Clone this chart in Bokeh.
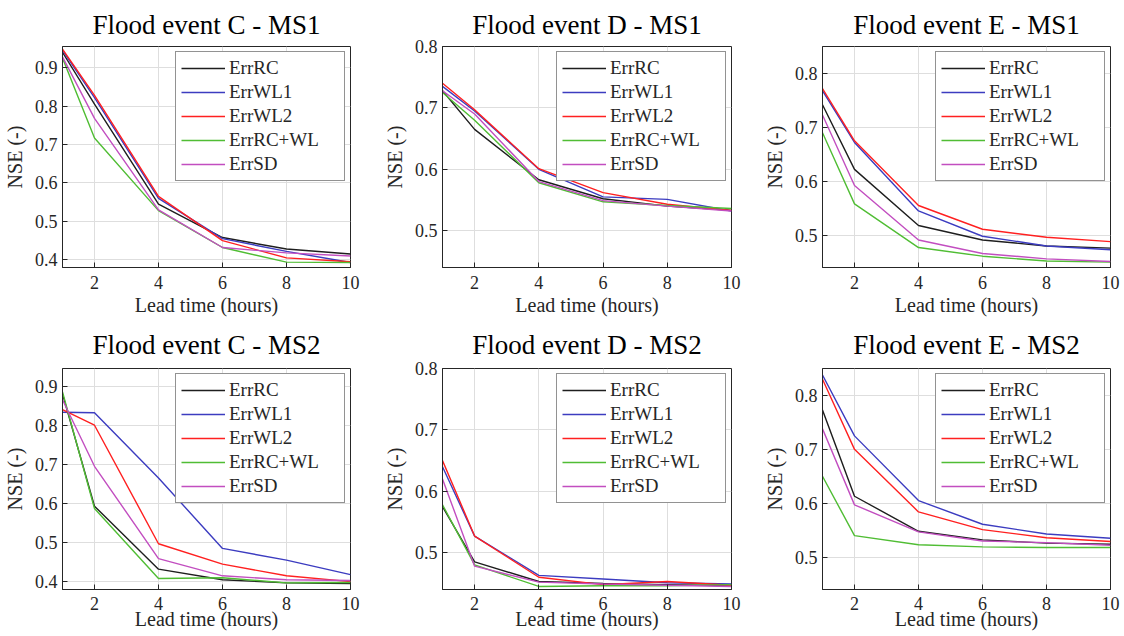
from bokeh.plotting import figure
from bokeh.layouts import gridplot
from bokeh.models import Range1d, FixedTicker, Legend, LegendItem
from bokeh.embed import file_html
from bokeh.resources import INLINE

# ---------------- data ----------------
lead_time = [1, 2, 4, 6, 8, 10]
series_names = ["ErrRC", "ErrWL1", "ErrWL2", "ErrRC+WL", "ErrSD"]
series_colors = ["#1e1e1e", "#3c3cc0", "#ff2020", "#50bd34", "#c24ec0"]

x_ticks = [2, 4, 6, 8, 10]
x_tick_labels = ["2", "4", "6", "8", "10"]

# Flood event C - MS1
c_ms1_errrc = [0.940, 0.805, 0.545, 0.458, 0.428, 0.415]
c_ms1_errwl1 = [0.945, 0.822, 0.560, 0.455, 0.422, 0.393]
c_ms1_errwl2 = [0.948, 0.828, 0.565, 0.450, 0.405, 0.395]
c_ms1_errrcwl = [0.925, 0.717, 0.528, 0.432, 0.394, 0.393]
c_ms1_errsd = [0.928, 0.768, 0.530, 0.432, 0.418, 0.410]

# Flood event D - MS1
d_ms1_errrc = [0.728, 0.665, 0.583, 0.552, 0.540, 0.533]
d_ms1_errwl1 = [0.735, 0.695, 0.600, 0.555, 0.551, 0.532]
d_ms1_errwl2 = [0.740, 0.697, 0.601, 0.562, 0.543, 0.533]
d_ms1_errrcwl = [0.725, 0.680, 0.578, 0.547, 0.541, 0.536]
d_ms1_errsd = [0.728, 0.690, 0.580, 0.549, 0.540, 0.532]

# Flood event E - MS1
e_ms1_errrc = [0.742, 0.622, 0.518, 0.491, 0.480, 0.476]
e_ms1_errwl1 = [0.768, 0.672, 0.545, 0.498, 0.480, 0.473]
e_ms1_errwl2 = [0.772, 0.675, 0.555, 0.511, 0.496, 0.488]
e_ms1_errrcwl = [0.690, 0.558, 0.477, 0.461, 0.452, 0.450]
e_ms1_errsd = [0.723, 0.592, 0.491, 0.466, 0.456, 0.451]

# Flood event C - MS2
c_ms2_errrc = [0.880, 0.593, 0.432, 0.405, 0.397, 0.395]
c_ms2_errwl1 = [0.833, 0.832, 0.665, 0.485, 0.455, 0.418]
c_ms2_errwl2 = [0.840, 0.800, 0.497, 0.445, 0.415, 0.400]
c_ms2_errrcwl = [0.885, 0.587, 0.408, 0.410, 0.397, 0.398]
c_ms2_errsd = [0.865, 0.695, 0.459, 0.415, 0.405, 0.403]

# Flood event D - MS2
d_ms2_errrc = [0.575, 0.485, 0.453, 0.450, 0.448, 0.446]
d_ms2_errwl1 = [0.640, 0.527, 0.463, 0.457, 0.451, 0.449]
d_ms2_errwl2 = [0.650, 0.527, 0.460, 0.448, 0.453, 0.447]
d_ms2_errrcwl = [0.578, 0.480, 0.445, 0.446, 0.446, 0.448]
d_ms2_errsd = [0.620, 0.478, 0.452, 0.449, 0.447, 0.445]

# Flood event E - MS2
e_ms2_errrc = [0.773, 0.613, 0.548, 0.532, 0.526, 0.524]
e_ms2_errwl1 = [0.838, 0.725, 0.605, 0.561, 0.543, 0.535]
e_ms2_errwl2 = [0.830, 0.700, 0.584, 0.551, 0.536, 0.529]
e_ms2_errrcwl = [0.650, 0.540, 0.523, 0.519, 0.518, 0.518]
e_ms2_errsd = [0.738, 0.597, 0.547, 0.530, 0.527, 0.522]

titles = ["Flood event C - MS1", "Flood event D - MS1", "Flood event E - MS1",
          "Flood event C - MS2", "Flood event D - MS2", "Flood event E - MS2"]

c_y_ticks = [0.4, 0.5, 0.6, 0.7, 0.8, 0.9]
d_y_ticks = [0.5, 0.6, 0.7, 0.8]
e_y_ticks = [0.5, 0.6, 0.7, 0.8]

panel_series = [
    [c_ms1_errrc, c_ms1_errwl1, c_ms1_errwl2, c_ms1_errrcwl, c_ms1_errsd],
    [d_ms1_errrc, d_ms1_errwl1, d_ms1_errwl2, d_ms1_errrcwl, d_ms1_errsd],
    [e_ms1_errrc, e_ms1_errwl1, e_ms1_errwl2, e_ms1_errrcwl, e_ms1_errsd],
    [c_ms2_errrc, c_ms2_errwl1, c_ms2_errwl2, c_ms2_errrcwl, c_ms2_errsd],
    [d_ms2_errrc, d_ms2_errwl1, d_ms2_errwl2, d_ms2_errrcwl, d_ms2_errsd],
    [e_ms2_errrc, e_ms2_errwl1, e_ms2_errwl2, e_ms2_errrcwl, e_ms2_errsd],
]
panel_yranges = [(0.38, 0.955), (0.44, 0.80), (0.44, 0.85),
                 (0.38, 0.945), (0.44, 0.80), (0.44, 0.85)]
panel_yticks = [c_y_ticks, d_y_ticks, e_y_ticks, c_y_ticks, d_y_ticks, e_y_ticks]

# ---------------- layout ----------------
FONT = "Liberation Serif"
TXT = "#262626"
col_widths = [375, 375, 374]
col_border_left = [62, 67, 72]
col_border_right = [25, 19, 14]
row_heights = [318, 318]
row_border_top = [44, 50]
row_border_bottom = [50, 47]
row_title_standoff = [14, 18]
row_tick_standoff = [8, 7]
row_xlabel_standoff = [2, -5]

figs = []
for i in range(6):
    r, c = divmod(i, 3)
    p = figure(width=col_widths[c], height=row_heights[r],
               x_range=Range1d(1, 10),
               y_range=Range1d(*panel_yranges[i]),
               output_backend="svg", toolbar_location=None,
               min_border_left=col_border_left[c],
               min_border_right=col_border_right[c],
               min_border_top=row_border_top[r],
               min_border_bottom=row_border_bottom[r])
    p.title.text = titles[i]
    p.title.text_font = FONT
    p.title.text_font_size = "27px"
    p.title.text_font_style = "normal"
    p.title.text_color = "#000000"
    p.title.align = "center"
    p.title.standoff = row_title_standoff[r]

    p.outline_line_color = TXT
    p.outline_line_width = 1
    p.background_fill_color = "white"
    p.border_fill_color = "white"

    p.xaxis.ticker = FixedTicker(ticks=x_ticks)
    p.xaxis.major_label_overrides = {t: l for t, l in zip(x_ticks, x_tick_labels)}
    p.yaxis.ticker = FixedTicker(ticks=panel_yticks[i])
    p.yaxis.major_label_overrides = {t: f"{t:.1f}" for t in panel_yticks[i]}

    for ax in (p.xaxis[0], p.yaxis[0]):
        ax.axis_line_color = TXT
        ax.major_tick_in = 5
        ax.major_tick_out = 0
        ax.major_tick_line_color = TXT
        ax.minor_tick_line_color = None
        ax.major_label_text_font = FONT
        ax.major_label_text_font_size = "18px"
        ax.major_label_text_color = TXT
        ax.axis_label_text_font = FONT
        ax.axis_label_text_font_size = "20px"
        ax.axis_label_text_font_style = "normal"
        ax.axis_label_text_color = TXT
    p.xaxis.axis_label = "Lead time (hours)"
    p.yaxis.axis_label = "NSE (-)"
    p.xaxis.major_label_standoff = row_tick_standoff[r]
    p.xaxis.axis_label_standoff = row_xlabel_standoff[r]
    p.yaxis.major_label_standoff = 5
    p.yaxis.axis_label_standoff = 6

    p.xgrid.grid_line_color = "#dedede"
    p.ygrid.grid_line_color = "#dedede"
    p.xgrid.ticker = FixedTicker(ticks=x_ticks)
    p.ygrid.ticker = FixedTicker(ticks=panel_yticks[i])

    items = []
    for name, color, ys in zip(series_names, series_colors, panel_series[i]):
        rnd = p.line(lead_time, ys, line_color=color, line_width=1.4)
        items.append(LegendItem(label=name, renderers=[rnd]))
    leg = Legend(items=items, location="top_right")
    leg.label_text_font = FONT
    leg.label_text_font_size = "19px"
    leg.label_text_color = TXT
    leg.label_height = 22
    leg.glyph_height = 22
    leg.glyph_width = 44
    leg.label_width = 110
    leg.label_standoff = 4
    leg.spacing = 2
    leg.padding = 5
    leg.margin = 5
    leg.border_line_color = TXT
    leg.border_line_width = 1
    leg.background_fill_color = "white"
    leg.background_fill_alpha = 1.0
    p.add_layout(leg, "center")
    figs.append(p)

grid = gridplot([figs[0:3], figs[3:6]], toolbar_location=None)
open("out.html", "w").write(file_html(grid, INLINE))
